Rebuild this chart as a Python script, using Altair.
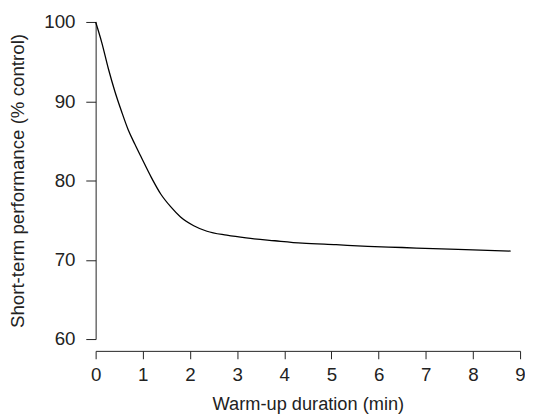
import altair as alt
import pandas as pd

duration = [0.0, 0.13, 0.27, 0.41, 0.55, 0.69, 0.83, 0.97, 1.18, 1.38, 1.59, 1.80, 2.08, 2.36, 2.78, 3.19, 3.8, 4.38, 5.1, 5.77, 6.5, 7.16, 8.0, 8.8]
performance = [100.0, 97.4, 94.1, 91.2, 88.7, 86.4, 84.6, 82.9, 80.4, 78.3, 76.7, 75.4, 74.3, 73.6, 73.1, 72.75, 72.4, 72.1, 71.9, 71.7, 71.55, 71.4, 71.25, 71.1]

x_ticks = [0, 1, 2, 3, 4, 5, 6, 7, 8, 9]
y_ticks = [60, 70, 80, 90, 100]

df = pd.DataFrame({"duration": duration, "performance": performance})

FONT = "Liberation Sans"

chart = alt.Chart(df).mark_line(color="black", strokeWidth=1.3, interpolate="monotone").encode(
    x=alt.X("duration:Q",
            scale=alt.Scale(domain=[0, 9], nice=False, zero=False),
            axis=alt.Axis(title="Warm-up duration (min)", values=x_ticks, grid=False,
                          offset=12, tickSize=8, labelPadding=7, titlePadding=11,
                          labelFontSize=19, titleFontSize=18.5, labelFont=FONT, titleFont=FONT,
                          labelColor="#222", titleColor="#222", domainColor="#222", tickColor="#222",
                          titleFontWeight="normal", labelFlush=False)),
    y=alt.Y("performance:Q",
            scale=alt.Scale(domain=[60, 100], nice=False, zero=False),
            axis=alt.Axis(title="Short-term performance (% control)", values=y_ticks, grid=False,
                          tickSize=10, labelPadding=11, titleX=-69, titleY=161,
                          labelFontSize=19, titleFontSize=19, labelFont=FONT, titleFont=FONT,
                          labelColor="#222", titleColor="#222", domainColor="#222", tickColor="#222",
                          titleFontWeight="normal", labelFlush=False)),
).properties(
    width=431, height=322,
    autosize=alt.AutoSizeParams(type="none"),
    padding={"left": 89, "top": 11, "right": 5, "bottom": 78},
).configure_view(stroke=None)

chart.save("out.html", embed_options={"renderer": "svg", "actions": False})
